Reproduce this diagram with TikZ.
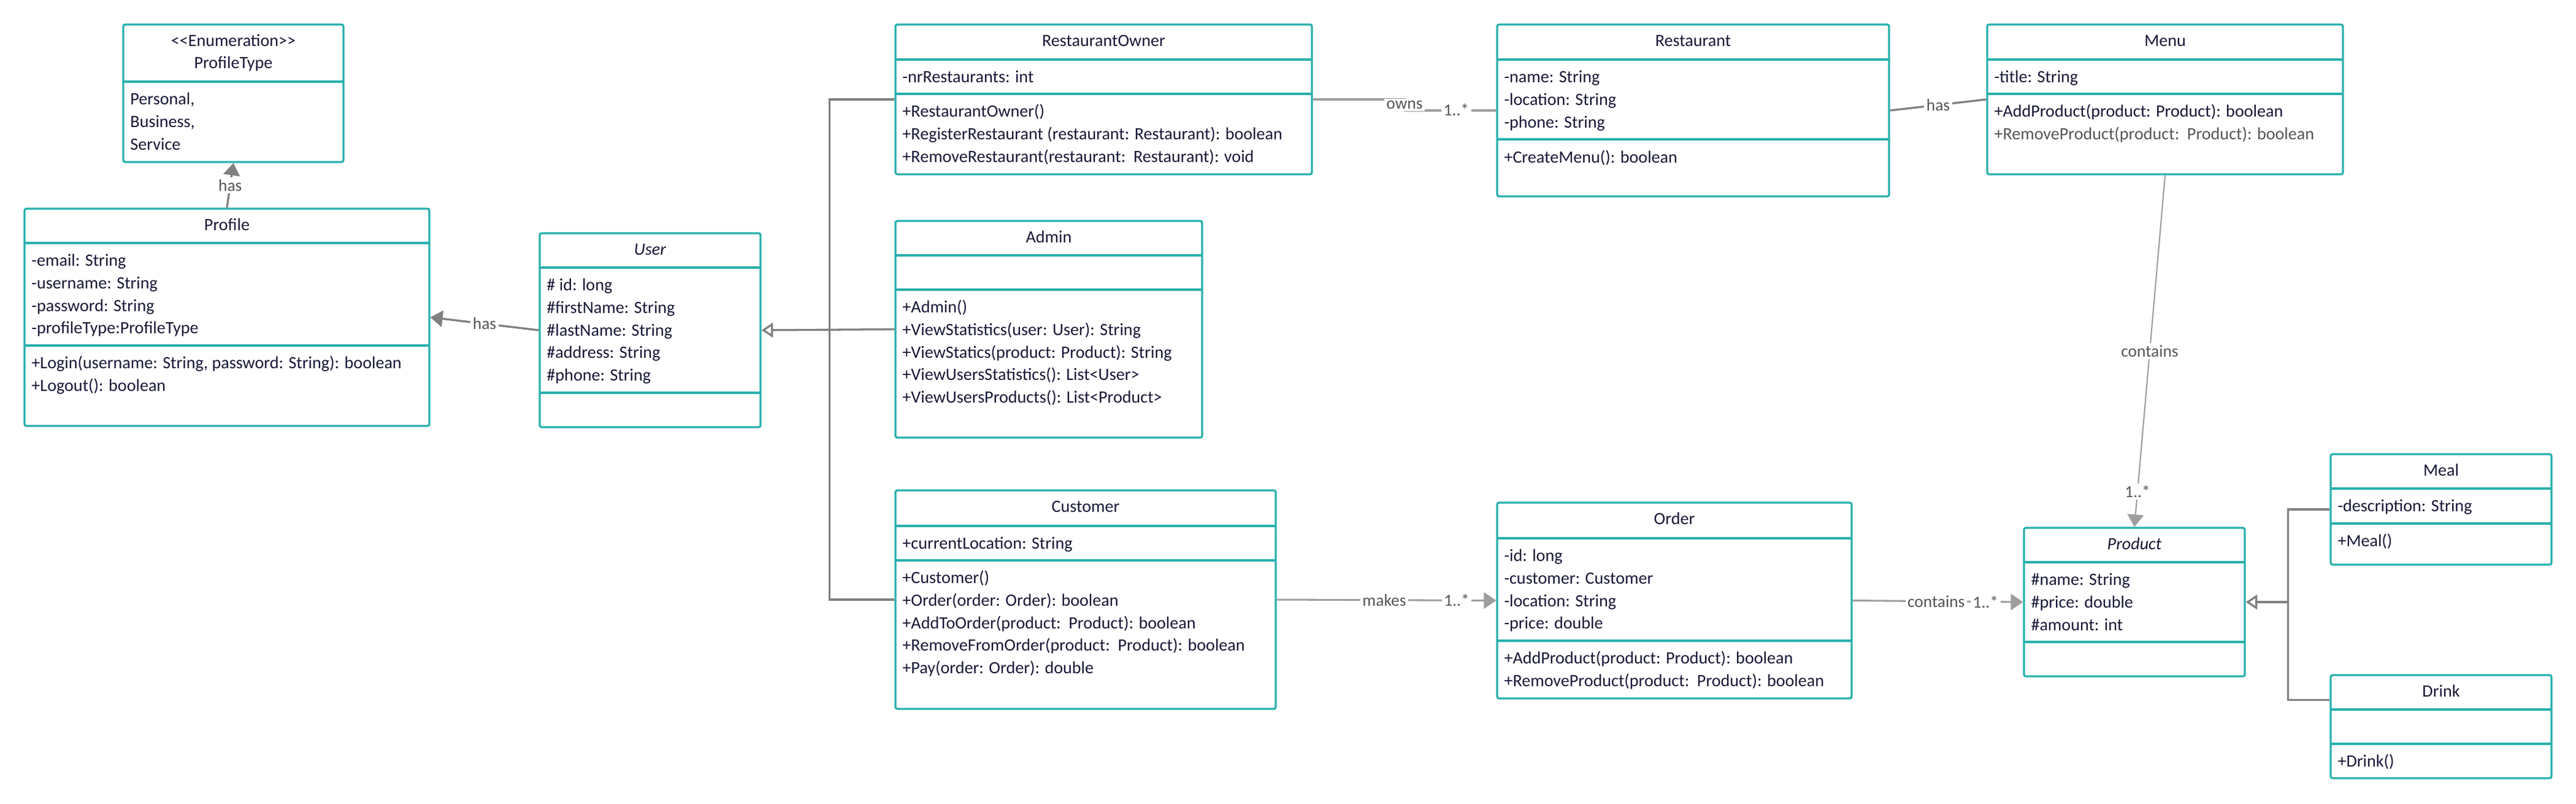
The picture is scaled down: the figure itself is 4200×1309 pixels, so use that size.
\documentclass[tikz,border=0pt]{standalone}
\usepackage{fontspec}
\setmainfont{Carlito}
\usetikzlibrary{arrows.meta,fit,calc}

\definecolor{umlteal}{RGB}{40,176,172}
\definecolor{umltext}{RGB}{24,24,56}
\definecolor{linegray}{RGB}{128,128,128}
\definecolor{assocgray}{RGB}{158,158,158}
\definecolor{lblgray}{RGB}{85,85,85}

\tikzset{
  classbox/.style={draw=umlteal, line width=1.4pt, rounded corners=1.3pt, inner sep=0pt},
  divider/.style={draw=umlteal, line width=1.4pt},
  member/.style={anchor=base west, inner sep=0pt, text=umltext, font=\fontsize{12}{14}\selectfont},
  ctitle/.style={anchor=base, inner sep=0pt, text=umltext, font=\fontsize{12}{14}\selectfont},
  genline/.style={draw=linegray, line width=1.4pt},
  hasline/.style={draw=linegray, line width=1.4pt},
  assoc/.style={draw=assocgray, line width=1.3pt},
  lbl/.style={fill=white, text=lblgray, inner sep=1.5pt, font=\fontsize{11.7}{13}\selectfont},
  filltip/.style={-{Triangle[length=0.3cm, width=0.4cm]}},
  opentip/.style={-{Triangle[open, length=0.28cm, width=0.36cm]}},
}

\begin{document}
\begin{tikzpicture}[x=0.015cm, y=-0.015cm]
\useasboundingbox (0,0) rectangle (4200,1309);

% boxes: name / left / top / right / bottom / divider / divider
\foreach \n/\xa/\ya/\xb/\yb/\da/\db in {
   ptype/201/40/560/264/133/133,
   profile/40/340/700/694/396/563,
   user/880/380/1240/696/436/640,
   owner/1460/40/2139/284/97/153,
   admin/1460/360/1960/713/416/472,
   customer/1460/799/2080/1155/857/913,
   restaurant/2441/40/3080/320/97/227,
   order/2441/819/3019/1138/877/1044,
   menu/3240/40/3820/284/97/153,
   product/3300/860/3660/1102/916/1046,
   meal/3800/740/4160/920/796/853,
   drink/3800/1100/4160/1268/1156/1212}
 {
   \node[classbox, fit={(\xa,\ya) (\xb,\yb)}] (\n) {};
   \draw[divider] (\xa,\da) -- (\xb,\da);
   \draw[divider] (\xa,\db) -- (\xb,\db);
 }

\foreach \n/\t in {profile/Profile, user/{\itshape User}, owner/RestaurantOwner, admin/Admin,
   customer/Customer, restaurant/Restaurant, order/Order, menu/Menu,
   product/{\itshape Product}, meal/Meal, drink/Drink}
   \node[ctitle] (\n-title) at ($(\n.north)+(0,37)$) {\t};

\node[ctitle] (ptype-stereo) at ($(ptype.north)+(0,37)$) {<\kern0pt<Enumeration>\kern0pt>};
\node[ctitle] (ptype-title) at ($(ptype.north)+(0,73.5)$) {ProfileType};

% members
\foreach \t [count=\i] in {{Personal,}, {Business,}, Service}
   \node[member] (ptype-v\i) at (212, {133.7+36.8*\i}) {\t};

\foreach \t [count=\i] in {-email: String, -username: String, -password: String, -profileType:ProfileType}
   \node[member] (profile-a\i) at (51, {396.7+36.8*\i}) {\t};
\foreach \t [count=\i] in {{+Login(username: String, password: String): boolean}, +Logout(): boolean}
   \node[member] (profile-m\i) at (51, {563.7+36.8*\i}) {\t};

\foreach \t [count=\i] in {\# id: long, \#firstName: String, \#lastName: String, \#address: String, \#phone: String}
   \node[member] (user-a\i) at (891, {436.7+36.8*\i}) {\t};

\node[member] (owner-a1) at (1471, 134.5) {-nrRestaurants: int};
\foreach \t [count=\i] in {+RestaurantOwner(), +RegisterRestaurant (restaurant: Restaurant): boolean,
   +RemoveRestaurant(restaurant:\ \ Restaurant): void}
   \node[member] (owner-m\i) at (1471, {153.7+36.8*\i}) {\t};

\foreach \t [count=\i] in {+Admin(), +ViewStatistics(user: User): String, +ViewStatics(product: Product): String,
   +ViewUsersStatistics(): List<User>, +ViewUsersProducts(): List<Product>}
   \node[member] (admin-m\i) at (1471, {472.7+36.8*\i}) {\t};

\node[member] (customer-a1) at (1471, 894.5) {+currentLocation: String};
\foreach \t [count=\i] in {+Customer(), +Order(order: Order): boolean, +AddToOrder(product:\ \ Product): boolean,
   +RemoveFromOrder(product:\ \ Product): boolean, +Pay(order: Order): double}
   \node[member] (customer-m\i) at (1471, {913.7+36.8*\i}) {\t};

\foreach \t [count=\i] in {-name: String, -location: String, -phone: String}
   \node[member] (restaurant-a\i) at (2452, {97.7+36.8*\i}) {\t};
\node[member] (restaurant-m1) at (2452, 265) {+CreateMenu(): boolean};

\foreach \t [count=\i] in {-id: long, -customer: Customer, -location: String, -price: double}
   \node[member] (order-a\i) at (2452, {877.7+36.8*\i}) {\t};
\foreach \t [count=\i] in {+AddProduct(product: Product): boolean, +RemoveProduct(product:\ \ Product): boolean}
   \node[member] (order-m\i) at (2452, {1044.7+36.8*\i}) {\t};

\node[member] (menu-a1) at (3251, 134.5) {-title: String};
\node[member] (menu-m1) at (3251, 190.5) {+AddProduct(product: Product): boolean};
\node[member, text=lblgray] (menu-m2) at (3251, 227.3) {+RemoveProduct(product:\ \ Product): boolean};

\foreach \t [count=\i] in {\#name: String, \#price: double, \#amount: int}
   \node[member] (product-a\i) at (3311, {916.7+36.8*\i}) {\t};

\node[member] (meal-a1) at (3811, 833.5) {-description: String};
\node[member] (meal-m1) at (3811, 890.5) {+Meal()};
\node[member] (drink-m1) at (3811, 1249.5) {+Drink()};

% connectors
\draw[hasline, filltip] (profile.north) -- node[lbl] (has-a) {has} (ptype.south);
\draw[hasline, filltip] (user.west) -- node[lbl] (has-b) {has} (profile.east);

\coordinate (ujoin) at ($(user.east)+(111,0)$);
\draw[genline] (owner.west) -| (ujoin) |- (customer.west);
\draw[genline, opentip] (admin.west) -- (user.east);

\coordinate (ownmid) at ($(owner.east)!0.5!(restaurant.west)$);
\draw[assoc] (owner.east) -| (ownmid) |- (restaurant.west);
\node[lbl] (owns) at (ownmid) {owns};
\node[lbl] (owns-mult) at ($(restaurant.west)+(-65,-1)$) {1..*};

\draw[hasline] (restaurant.east) -- node[lbl] (has-c) {has} (menu.west);

\draw[assoc, line width=0.9pt, filltip] (menu.south) -- node[lbl] (contains-a) {contains}
   node[lbl, pos=0.9] (contains-a-mult) {1..*} (product.north);

\draw[assoc, filltip] (customer.east) -- node[lbl, pos=0.49] (makes) {makes}
   node[lbl, pos=0.82] (makes-mult) {1..*} (order.west);

\draw[assoc, filltip] (order.east) -- node[lbl, pos=0.49] (contains-b) {contains}
   node[lbl, pos=0.78] (contains-b-mult) {1..*} (product.west);

\coordinate (pjoin) at ($(product.east)+(69,0)$);
\coordinate (drinkin) at ($(drink.north west)+(0,42)$);
\draw[genline] (meal.west) -| (pjoin) |- (drinkin);
\draw[genline, opentip] (pjoin) -- (product.east);

\end{tikzpicture}
\end{document}
